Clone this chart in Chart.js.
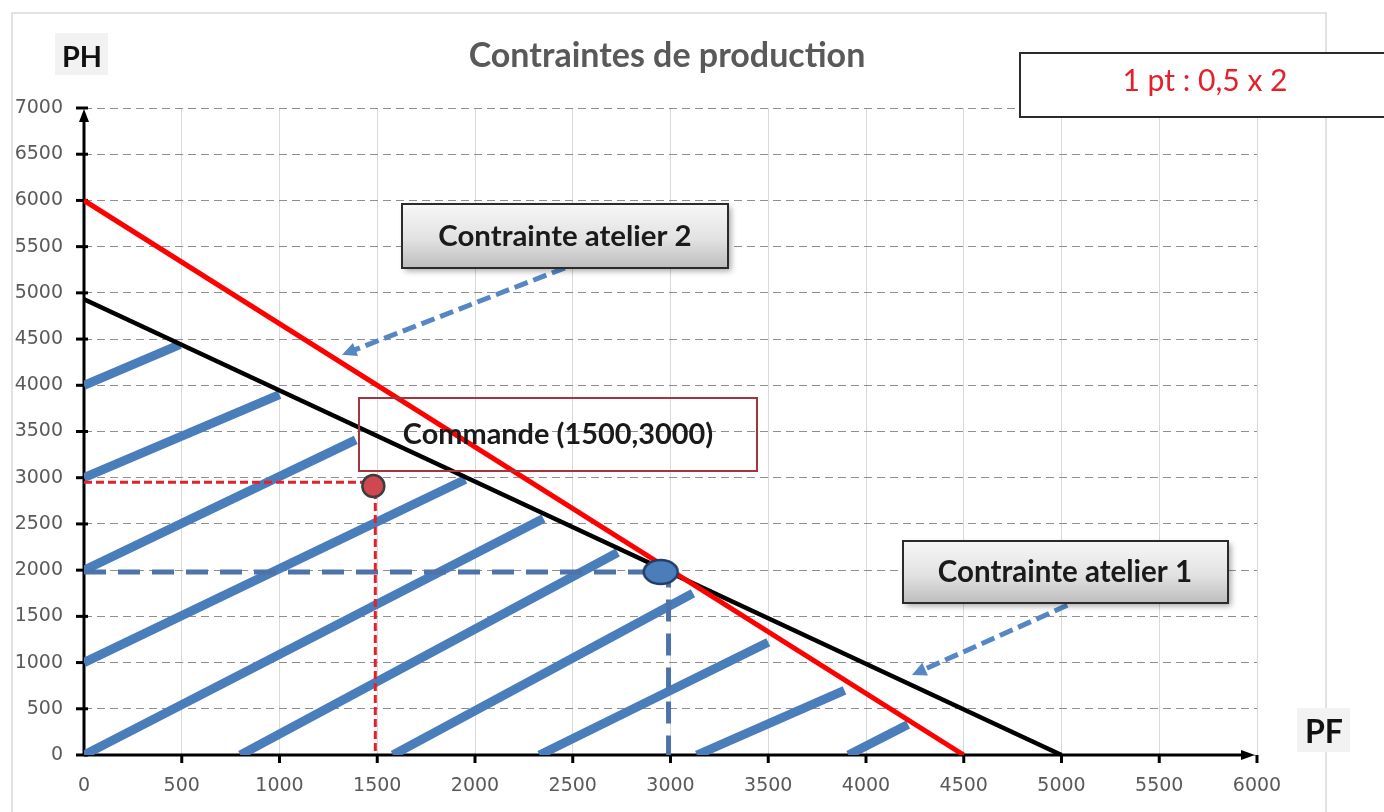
<!DOCTYPE html>
<html lang="fr">
<head>
<meta charset="utf-8">
<title>Contraintes de production</title>
<script src="https://cdn.jsdelivr.net/npm/chart.js@4.4.1/dist/chart.umd.min.js"></script>
<style>
  html, body { margin: 0; padding: 0; background: #fff; }
  #wrap { width: 1384px; height: 812px; }
</style>
</head>
<body>
<div id="wrap"><canvas id="productionChart" width="1384" height="812"></canvas></div>
<script>
// axes
const xMax = 6000;
const yMax = 7000;
const tickStep = 500;

// droites de contrainte
const atelier2Line = [[0, 6000], [4500, 0]];
const atelier1Line = [[0, 4930], [5000, 0]];

// commande (1500,3000) et point commun des deux contraintes
const commandePoint = [1480, 2910];
const commandeGuide = [[0, 2950], [1490, 2950], [1490, 0]];
const optimumPoint = [2950, 1980];
const optimumGuide = [[0, 1980], [2990, 1980], [2990, 0]];

// hachures de la zone admissible
const hatchLines = [
    [[0, 4000], [490, 4440]],
    [[0, 3000], [1000, 3900]],
    [[0, 2000], [1390, 3410]],
    [[0, 1000], [1950, 2980]],
    [[0, 0], [2350, 2560]],
    [[800, 0], [2730, 2190]],
    [[1580, 0], [3115, 1750]],
    [[2330, 0], [3500, 1220]],
    [[3135, 0], [3890, 700]],
    [[3910, 0], [4215, 330]]
];

// fleches vers les droites (depart, arrivee)
const arrowLines = [
    [[2460, 5270], [1320, 4330]],
    [[5030, 1620], [4235, 866]]
];

const FONT = 'Lato, "Open Sans", sans-serif';
const HATCH_BLUE = '#4a7ebb';

function toPts(arr) {
    return arr.map(([x, y]) => ({ x, y }));
}

// marqueur ovale du point commun
const ellipse = document.createElement('canvas');
ellipse.width = 38;
ellipse.height = 28;
const ec = ellipse.getContext('2d');
ec.beginPath();
ec.ellipse(19, 14, 17, 12, 0, 0, Math.PI * 2);
ec.fillStyle = '#4a7ebb';
ec.fill();
ec.lineWidth = 2.5;
ec.strokeStyle = '#213f66';
ec.stroke();

const datasets = [
    {
        label: 'Commande',
        data: toPts([commandePoint]),
        showLine: false,
        pointRadius: 11,
        pointBackgroundColor: '#d0474f',
        pointBorderColor: '#3d3d3d',
        pointBorderWidth: 2.5
    },
    {
        label: 'Optimum',
        data: toPts([optimumPoint]),
        showLine: false,
        pointStyle: ellipse,
        pointRadius: 17
    },
    {
        label: 'Guide commande',
        data: toPts(commandeGuide),
        showLine: true,
        borderColor: '#e3202b',
        borderWidth: 3,
        borderDash: [8, 4],
        pointRadius: 0
    },
    {
        label: 'Guide optimum',
        data: toPts(optimumGuide),
        showLine: true,
        borderColor: '#4d73a9',
        borderWidth: 5,
        borderDash: [22, 12],
        pointRadius: 0
    },
    {
        label: 'Contrainte atelier 2',
        data: toPts(atelier2Line),
        showLine: true,
        borderColor: '#ff0000',
        borderWidth: 5,
        pointRadius: 0
    },
    {
        label: 'Contrainte atelier 1',
        data: toPts(atelier1Line),
        showLine: true,
        borderColor: '#000000',
        borderWidth: 4.5,
        pointRadius: 0
    }
];

hatchLines.forEach((seg, i) => {
    datasets.push({
        label: 'Hachure ' + (i + 1),
        data: toPts(seg),
        showLine: true,
        borderColor: HATCH_BLUE,
        borderWidth: 9,
        borderCapStyle: 'butt',
        pointRadius: 0
    });
});

function fitText(ctx, text, cx, cy, width, weight, color) {
    ctx.font = `${weight} 20px ${FONT}`;
    const w = ctx.measureText(text).width;
    const size = 20 * width / w;
    ctx.font = `${weight} ${size.toFixed(1)}px ${FONT}`;
    ctx.fillStyle = color;
    ctx.textAlign = 'center';
    ctx.textBaseline = 'middle';
    ctx.fillText(text, cx, cy);
}

function greyBox(ctx, x0, y0, x1, y1) {
    ctx.save();
    ctx.shadowColor = 'rgba(0,0,0,0.35)';
    ctx.shadowBlur = 6;
    ctx.shadowOffsetX = 3;
    ctx.shadowOffsetY = 3;
    const g = ctx.createLinearGradient(0, y0, 0, y1);
    g.addColorStop(0, '#f7f7f7');
    g.addColorStop(0.55, '#e2e2e2');
    g.addColorStop(1, '#bdbdbd');
    ctx.fillStyle = g;
    ctx.fillRect(x0, y0, x1 - x0, y1 - y0);
    ctx.restore();
    ctx.strokeStyle = '#2b2b2b';
    ctx.lineWidth = 2;
    ctx.strokeRect(x0, y0, x1 - x0, y1 - y0);
}

function drawArrow(ctx, x0, y0, x1, y1) {
    const ang = Math.atan2(y1 - y0, x1 - x0);
    const head = 16;
    ctx.save();
    ctx.strokeStyle = '#5686c4';
    ctx.fillStyle = '#5686c4';
    ctx.lineWidth = 5;
    ctx.setLineDash([14, 6]);
    ctx.beginPath();
    ctx.moveTo(x0, y0);
    ctx.lineTo(x1 - Math.cos(ang) * head * 0.8, y1 - Math.sin(ang) * head * 0.8);
    ctx.stroke();
    ctx.setLineDash([]);
    ctx.beginPath();
    ctx.moveTo(x1, y1);
    ctx.lineTo(x1 - head * Math.cos(ang - 0.45), y1 - head * Math.sin(ang - 0.45));
    ctx.lineTo(x1 - head * Math.cos(ang + 0.45), y1 - head * Math.sin(ang + 0.45));
    ctx.closePath();
    ctx.fill();
    ctx.restore();
}

const decorPlugin = {
    id: 'decor',
    beforeDraw(chart) {
        const ctx = chart.ctx;
        ctx.save();
        ctx.fillStyle = '#ffffff';
        ctx.fillRect(0, 0, chart.width, chart.height);
        ctx.strokeStyle = '#d9d9d9';
        ctx.lineWidth = 1.5;
        ctx.strokeRect(12, 13, 1314, 800);
        ctx.restore();
    },
    beforeDatasetsDraw(chart) {
        const ctx = chart.ctx;
        const xs = chart.scales.x;
        const ys = chart.scales.y;
        const { left, right, top, bottom } = chart.chartArea;
        ctx.save();
        ctx.strokeStyle = '#000';
        ctx.fillStyle = '#000';
        ctx.lineWidth = 3;
        // axe des ordonnees
        ctx.beginPath();
        ctx.moveTo(left, bottom);
        ctx.lineTo(left, top + 10);
        ctx.stroke();
        ctx.beginPath();
        ctx.moveTo(left, top + 1);
        ctx.lineTo(left - 5, top + 14);
        ctx.lineTo(left + 5, top + 14);
        ctx.closePath();
        ctx.fill();
        // axe des abscisses
        ctx.beginPath();
        ctx.moveTo(left, bottom);
        ctx.lineTo(right - 12, bottom);
        ctx.stroke();
        ctx.beginPath();
        ctx.moveTo(right - 2, bottom);
        ctx.lineTo(right - 16, bottom - 5);
        ctx.lineTo(right - 16, bottom + 5);
        ctx.closePath();
        ctx.fill();
        // graduations
        for (let v = 0; v <= yMax; v += tickStep) {
            const y = ys.getPixelForValue(v);
            ctx.beginPath();
            ctx.moveTo(left - 8, y);
            ctx.lineTo(left + 4, y);
            ctx.stroke();
        }
        for (let v = tickStep; v <= xMax; v += tickStep) {
            const x = xs.getPixelForValue(v);
            ctx.beginPath();
            ctx.moveTo(x, bottom);
            ctx.lineTo(x, bottom + 8);
            ctx.stroke();
        }
        ctx.restore();
    },
    afterDatasetsDraw(chart) {
        const ctx = chart.ctx;
        const xs = chart.scales.x;
        const ys = chart.scales.y;
        ctx.save();
        arrowLines.forEach(([a, b]) => {
            drawArrow(ctx, xs.getPixelForValue(a[0]), ys.getPixelForValue(a[1]),
                xs.getPixelForValue(b[0]), ys.getPixelForValue(b[1]));
        });

        // cadres de texte
        greyBox(ctx, 402, 204, 728, 268);
        fitText(ctx, 'Contrainte atelier 2', 565, 237, 253, 'bold', '#1a1a1a');

        greyBox(ctx, 903, 541, 1228, 603);
        fitText(ctx, 'Contrainte atelier 1', 1065, 572, 254, 'bold', '#1a1a1a');

        ctx.strokeStyle = '#a5343c';
        ctx.lineWidth = 2;
        ctx.strokeRect(359, 398, 398, 73);
        fitText(ctx, 'Commande (1500,3000)', 558, 435, 310, 'bold', '#1a1a1a');

        ctx.fillStyle = '#ffffff';
        ctx.fillRect(1020, 53, 380, 64);
        ctx.strokeStyle = '#2b2b2b';
        ctx.lineWidth = 2;
        ctx.strokeRect(1020, 53, 380, 64);
        fitText(ctx, '1 pt : 0,5 x 2', 1205, 81, 165, 'normal', '#e4212b');

        // titre et noms des axes
        fitText(ctx, 'Contraintes de production', 667, 56, 397, 'bold', '#595959');
        ctx.fillStyle = '#f2f2f2';
        ctx.fillRect(55, 33, 53, 42);
        fitText(ctx, 'PH', 82, 58, 40, 'bold', '#111111');
        ctx.fillStyle = '#f2f2f2';
        ctx.fillRect(1297, 708, 53, 44);
        fitText(ctx, 'PF', 1324, 733, 38, 'bold', '#111111');
        ctx.restore();
    }
};

const tickFont = { family: '"DejaVu Sans", sans-serif', size: 19 };

const ctx = document.getElementById('productionChart').getContext('2d');
new Chart(ctx, {
    type: 'scatter',
    data: { datasets },
    options: {
        responsive: false,
        animation: false,
        devicePixelRatio: 1,
        events: [],
        layout: { padding: { left: 0, right: 127, top: 108, bottom: 0 } },
        plugins: {
            legend: { display: false },
            title: { display: false },
            tooltip: { enabled: false }
        },
        scales: {
            x: {
                type: 'linear',
                min: 0,
                max: xMax,
                afterFit(scale) { scale.height = 57; },
                ticks: {
                    stepSize: tickStep,
                    padding: 20,
                    maxRotation: 0,
                    color: '#5a5a5a',
                    font: tickFont,
                    callback: (v) => String(v)
                },
                grid: { color: '#d9d9d9', lineWidth: 1, drawTicks: false },
                border: { display: false }
            },
            y: {
                type: 'linear',
                min: 0,
                max: yMax,
                afterFit(scale) { scale.width = 84; },
                ticks: {
                    stepSize: tickStep,
                    padding: 21,
                    color: '#5a5a5a',
                    font: tickFont,
                    callback: (v) => String(v)
                },
                grid: { color: '#8f8f8f', lineWidth: 1, drawTicks: false },
                border: { display: false, dash: [8, 5] }
            }
        }
    },
    plugins: [decorPlugin]
});
</script>
</body>
</html>
